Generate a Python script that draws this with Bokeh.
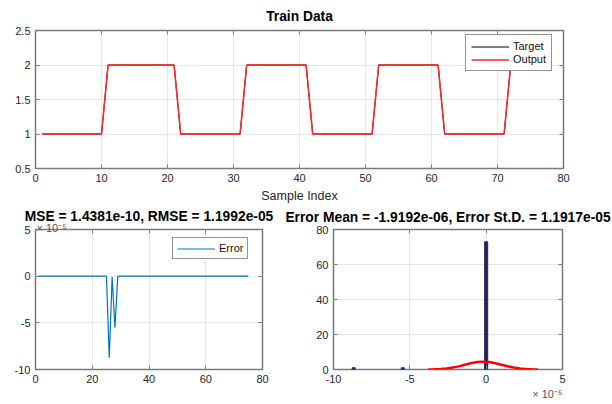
from bokeh.plotting import figure
from bokeh.layouts import column, row
from bokeh.models import (FixedTicker, PrintfTickFormatter, Legend, LegendItem,
                          LinearAxis, Title)
from bokeh.embed import file_html
from bokeh.resources import INLINE

# ---------------- data ----------------
sample_index = [1, 2, 3, 4, 5, 6, 7, 8, 9, 10,
                11, 12, 13, 14, 15, 16, 17, 18, 19, 20,
                21, 22, 23, 24, 25, 26, 27, 28, 29, 30,
                31, 32, 33, 34, 35, 36, 37, 38, 39, 40,
                41, 42, 43, 44, 45, 46, 47, 48, 49, 50,
                51, 52, 53, 54, 55, 56, 57, 58, 59, 60,
                61, 62, 63, 64, 65, 66, 67, 68, 69, 70,
                71, 72, 73, 74, 75]
target = [1, 1, 1, 1, 1, 1, 1, 1, 1, 1,
          2, 2, 2, 2, 2, 2, 2, 2, 2, 2,
          2, 1, 1, 1, 1, 1, 1, 1, 1, 1,
          1, 2, 2, 2, 2, 2, 2, 2, 2, 2,
          2, 1, 1, 1, 1, 1, 1, 1, 1, 1,
          1, 2, 2, 2, 2, 2, 2, 2, 2, 2,
          2, 1, 1, 1, 1, 1, 1, 1, 1, 1,
          1, 2, 2, 2, 2]
output = [1, 1, 1, 1, 1, 1, 1, 1, 1, 1,
          2, 2, 2, 2, 2, 2, 2, 2, 2, 2,
          2, 1, 1, 1, 1, 1.0000875, 1.000001, 1.000055, 1, 1,
          1, 2, 2, 2, 2, 2, 2, 2, 2, 2,
          2, 1, 1, 1, 1, 1, 1, 1, 1, 1,
          1, 2, 2, 2, 2, 2, 2, 2, 2, 2,
          2, 1, 1, 1, 1, 1, 1, 1, 1, 1,
          1, 2, 2, 2, 2]
# error in units of 1e-5
error_e5 = [0, 0, 0, 0, 0, 0, 0, 0, 0, 0,
            0, 0, 0, 0, 0, 0, 0, 0, 0, 0,
            0, 0, 0, 0, 0, -8.75, -0.1, -5.5, 0, 0,
            0, 0, 0, 0, 0, 0, 0, 0, 0, 0,
            0, 0, 0, 0, 0, 0, 0, 0, 0, 0,
            0, 0, 0, 0, 0, 0, 0, 0, 0, 0,
            0, 0, 0, 0, 0, 0, 0, 0, 0, 0,
            0, 0, 0, 0, 0]
# histogram (bin centres in units of 1e-5)
hist_centers_e5 = [-8.68, -5.46, 0.0]
hist_counts = [1, 1, 73]
# fitted normal curve
fit_x_e5 = [-3.8, -3.4, -3.0, -2.6, -2.2, -1.8, -1.4, -1.0, -0.6, -0.2,
            0.2, 0.6, 1.0, 1.4, 1.8, 2.2, 2.6, 3.0, 3.4]
fit_y = [0.05, 0.12, 0.28, 0.58, 1.08, 1.80, 2.68, 3.57, 4.24, 4.50,
         4.26, 3.60, 2.73, 1.84, 1.11, 0.60, 0.29, 0.12, 0.05]

top_xticks = [0, 10, 20, 30, 40, 50, 60, 70, 80]
top_yticks = [0.5, 1, 1.5, 2, 2.5]
err_xticks = [0, 20, 40, 60, 80]
err_yticks = [-10, -5, 0, 5]
hist_xticks = [-10, -5, 0, 5]
hist_yticks = [0, 20, 40, 60, 80]

title_top = "Train Data"
title_err = "MSE = 1.4381e-10, RMSE = 1.1992e-05"
title_hist = "Error Mean = -1.9192e-06, Error St.D. = 1.1917e-05"
x_label_top = "Sample Index"
exp_label = "\u00d7 10\u207b\u2075"

# ---------------- style ----------------
FONT = "Liberation Sans"
TXT = "#262626"
FRAME = "#7a7a7a"
GRID = "#e6e6e6"
TITLE_SIZE = "13.8px"


def style(p, xt, yt):
    p.background_fill_color = "white"
    p.border_fill_color = "white"
    p.outline_line_color = FRAME
    p.outline_line_width = 1.5
    xa = p.below[0]
    ya = p.left[0]
    xa.ticker = FixedTicker(ticks=xt)
    ya.ticker = FixedTicker(ticks=yt)
    for ax in (xa, ya):
        ax.formatter = PrintfTickFormatter(format="%g")
        ax.axis_line_color = None
        ax.major_tick_in = 4
        ax.major_tick_out = 0
        ax.major_tick_line_color = FRAME
        ax.minor_tick_line_color = None
        ax.major_label_text_font = FONT
        ax.major_label_text_font_size = "11px"
        ax.major_label_text_color = TXT
        ax.major_label_standoff = 5
    # ticks on top and right (box on)
    for side, t in (("above", xt), ("right", yt)):
        ax = LinearAxis(ticker=FixedTicker(ticks=t), axis_line_color=None,
                        major_tick_in=4, major_tick_out=0,
                        major_tick_line_color=FRAME, minor_tick_line_color=None,
                        major_label_text_font_size="0px",
                        major_label_text_alpha=0, major_label_standoff=0)
        p.add_layout(ax, side)
    p.xgrid.grid_line_color = GRID
    p.ygrid.grid_line_color = GRID
    p.title.text_font = FONT
    p.title.text_font_size = TITLE_SIZE
    p.title.text_font_style = "bold"
    p.title.text_color = "black"
    p.title.align = "center"
    p.title.vertical_align = "middle"
    return xa, ya


def exp_title(align, offset, vertical_align, standoff, fallback):
    t = Title(text=exp_label, align=align, offset=offset,
              vertical_align=vertical_align,
              text_font=FONT, text_font_size="11px",
              text_font_style="normal", text_color="#555555")
    try:
        t.standoff = standoff
    except Exception:
        t.standoff = fallback
    return t


# ---------------- top: Train Data ----------------
p1 = figure(width=612, height=205, x_range=(0, 80), y_range=(0.5, 2.5),
            output_backend="svg", toolbar_location=None,
            min_border_left=35, min_border_right=49,
            min_border_top=30, min_border_bottom=34,
            title=title_top)
xa1, ya1 = style(p1, top_xticks, top_yticks)
p1.title.standoff = 12
xa1.axis_label = x_label_top
xa1.axis_label_text_font = FONT
xa1.axis_label_text_font_size = "12.5px"
xa1.axis_label_text_font_style = "normal"
xa1.axis_label_text_color = TXT
xa1.axis_label_standoff = 4
r_t = p1.line(sample_index, target, line_color="black", line_width=1)
r_o = p1.line(sample_index, output, line_color="#ff2a2a", line_width=1.6)
leg1 = Legend(items=[LegendItem(label="Target", renderers=[r_t]),
                     LegendItem(label="Output", renderers=[r_o])],
              location=(430, 97), padding=5, spacing=1, margin=0,
              glyph_width=38, glyph_height=11, label_height=11,
              label_standoff=4, label_text_font=FONT,
              label_text_font_size="11px", label_text_color="#111111",
              border_line_color="#262626", border_line_width=1,
              background_fill_color="white", background_fill_alpha=1)
p1.add_layout(leg1)

# ---------------- bottom left: error ----------------
p2 = figure(width=280, height=199, x_range=(0, 80), y_range=(-10, 5),
            output_backend="svg", toolbar_location=None,
            min_border_left=35, min_border_right=18,
            min_border_top=24, min_border_bottom=35,
            title=title_err)
style(p2, err_xticks, err_yticks)
p2.title.standoff = 5
p2.add_layout(exp_title("left", 1, "top", -12, 0), "above")
r_e = p2.line(sample_index, error_e5, line_color="#0072BD", line_width=1.2)
leg2 = Legend(items=[LegendItem(label="Error", renderers=[r_e])],
              location=(137, 110), padding=4, spacing=0, margin=0,
              glyph_width=38, glyph_height=11, label_height=11,
              label_standoff=4, label_text_font=FONT,
              label_text_font_size="11px", label_text_color="#111111",
              border_line_color="#262626", border_line_width=1,
              background_fill_color="white", background_fill_alpha=1)
p2.add_layout(leg2)

# ---------------- bottom right: histogram ----------------
p3 = figure(width=332, height=199, x_range=(-10, 5), y_range=(0, 80),
            output_backend="svg", toolbar_location=None,
            min_border_left=53, min_border_right=50,
            min_border_top=24, min_border_bottom=35,
            title=title_hist)
style(p3, hist_xticks, hist_yticks)
p3.title.standoff = 7
p3.add_layout(exp_title("right", 0, "bottom", 0, 0), "below")
p3.vbar(x=hist_centers_e5, top=hist_counts, width=0.2,
        fill_color="#24245a", line_color="#24245a", line_width=1)
p3.line(fit_x_e5, fit_y, line_color="red", line_width=2.5)

layout = column(p1, row(p2, p3))
open("out.html", "w").write(file_html(layout, INLINE))
